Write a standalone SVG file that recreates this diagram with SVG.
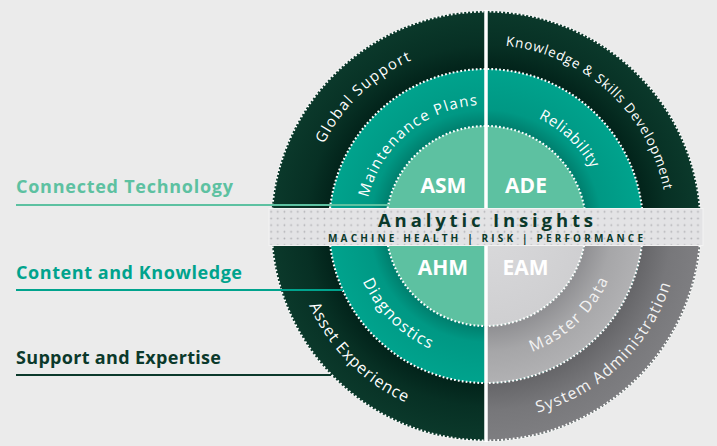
<svg xmlns="http://www.w3.org/2000/svg" xmlns:xlink="http://www.w3.org/1999/xlink" width="717" height="446" viewBox="0 0 717 446">
<defs>
<radialGradient id="gOuter" gradientUnits="userSpaceOnUse" cx="486" cy="226" r="215">
<stop offset="0.73" stop-color="#02231a"/><stop offset="0.84" stop-color="#073024"/><stop offset="1" stop-color="#0b392b"/>
</radialGradient>
<radialGradient id="gMid" gradientUnits="userSpaceOnUse" cx="486" cy="226" r="157">
<stop offset="0.637" stop-color="#007e6d"/><stop offset="0.74" stop-color="#009884"/><stop offset="1" stop-color="#00a38d"/>
</radialGradient>
<radialGradient id="gGrayOuter" gradientUnits="userSpaceOnUse" cx="486" cy="226" r="215">
<stop offset="0.73" stop-color="#656568"/><stop offset="0.86" stop-color="#77777a"/><stop offset="1" stop-color="#7e7e81"/>
</radialGradient>
<radialGradient id="gGrayMid" gradientUnits="userSpaceOnUse" cx="486" cy="226" r="157">
<stop offset="0.637" stop-color="#8f8f92"/><stop offset="0.8" stop-color="#a6a6a8"/><stop offset="1" stop-color="#b1b1b3"/>
</radialGradient>
<radialGradient id="gGrayIn" gradientUnits="userSpaceOnUse" cx="486" cy="226" r="100">
<stop offset="0" stop-color="#dadadc"/><stop offset="1" stop-color="#cfcfd1"/>
</radialGradient>
<pattern id="dots" patternUnits="userSpaceOnUse" x="1" y="1.7" width="6.67" height="6.67">
<rect width="6.67" height="6.67" fill="#e3e3e5"/>
<circle cx="3.3" cy="3.3" r="0.9" fill="#b2b2b6"/>
</pattern>
<path id="pGlobal" d="M343.6,339.3 A182,182 0 0 1 606.6,89.7"/>
<path id="pMaint" d="M386.9,295.4 A121,121 0 0 1 571.6,140.4"/>
<path id="pKnow" d="M363.7,92.5 A181,181 0 0 1 629.6,336.2"/>
<path id="pRel" d="M407.0,135.7 A120,120 0 0 1 579.5,301.2"/>
<path id="pDiag" d="M382.6,139.2 A135,135 0 0 0 572.8,329.4"/>
<path id="pAsset" d="M337.4,101.3 A194,194 0 0 0 610.7,374.6"/>
<path id="pMaster" d="M397.0,326.2 A134,134 0 0 0 591.0,142.8"/>
<path id="pSys" d="M359.0,372.6 A194,194 0 0 0 636.5,103.6"/>
</defs>
<style>
.dotted{fill:none;stroke:#ffffff;stroke-width:2.1;stroke-dasharray:1.8 2.1}
.ring{font-family:"Open Sans","Liberation Sans",sans-serif;font-size:15px;font-weight:400;fill:#ffffff}
.code{font-family:"Open Sans","Liberation Sans",sans-serif;font-size:21px;font-weight:700;fill:#ffffff;text-anchor:middle}
.lbl{font-family:"Open Sans","Liberation Sans",sans-serif;font-size:18px;font-weight:700}
.conn{fill:none;stroke-width:2}
</style>
<rect width="717" height="446" fill="#ebebeb"/>

<g id="outer-ring">
<circle cx="486" cy="226" r="215" fill="url(#gOuter)"/>
<path d="M486,226 L701,226 A215,215 0 0 1 486,441 Z" fill="url(#gGrayOuter)"/>
<circle class="dotted" cx="486" cy="226" r="214.5"/>
</g>
<g id="middle-ring">
<circle cx="486" cy="226" r="157" fill="url(#gMid)"/>
<path d="M486,226 L643,226 A157,157 0 0 1 486,383 Z" fill="url(#gGrayMid)"/>
<circle class="dotted" cx="486" cy="226" r="157"/>
</g>
<g id="inner-disc">
<circle cx="486" cy="226" r="100" fill="#5dc1a1"/>
<path d="M486,226 L586,226 A100,100 0 0 1 486,326 Z" fill="url(#gGrayIn)"/>
<circle class="dotted" cx="486" cy="226" r="100"/>
</g>
<line x1="486" y1="10" x2="486" y2="442" stroke="#ffffff" stroke-width="3.5"/>

<g id="connectors">
<line class="conn" x1="16" y1="205" x2="389" y2="205" stroke="#5dc1a1"/>
<line class="conn" x1="16" y1="290" x2="343" y2="290" stroke="#00a38d"/>
<line class="conn" x1="16" y1="375" x2="331" y2="375" stroke="#0b392b"/>
</g>

<g id="band">
<rect x="269" y="208.5" width="434" height="37" fill="url(#dots)" stroke="#f3f3f3" stroke-width="1"/>
<text x="485.5" y="227" text-anchor="middle" textLength="215" lengthAdjust="spacing" font-family="'Open Sans','Liberation Sans',sans-serif" font-size="18.5" font-weight="700" fill="#0b392b">Analytic Insights</text>
<text x="485.5" y="242" text-anchor="middle" textLength="315" lengthAdjust="spacing" font-family="'Open Sans','Liberation Sans',sans-serif" font-size="10" font-weight="700" fill="#0b392b">MACHINE HEALTH  |  RISK  |  PERFORMANCE</text>
</g>

<g id="global-support"><text class="ring" letter-spacing="1.4"><textPath href="#pGlobal" startOffset="50%" text-anchor="middle">Global Support</textPath></text></g>
<g id="knowledge-skills"><text class="ring" letter-spacing="0.8" style="font-size:13.5px"><textPath href="#pKnow" startOffset="50%" text-anchor="middle">Knowledge &amp; Skills Development</textPath></text></g>
<g id="maintenance-plans"><text class="ring" letter-spacing="1.3"><textPath href="#pMaint" startOffset="50%" text-anchor="middle">Maintenance Plans</textPath></text></g>
<g id="reliability"><text class="ring" letter-spacing="0.7"><textPath href="#pRel" startOffset="50%" text-anchor="middle">Reliability</textPath></text></g>
<g id="diagnostics"><text class="ring" style="font-size:16px" letter-spacing="1.2"><textPath href="#pDiag" startOffset="50%" text-anchor="middle">Diagnostics</textPath></text></g>
<g id="asset-experience"><text class="ring" style="font-size:16px" letter-spacing="0.9"><textPath href="#pAsset" startOffset="50%" text-anchor="middle">Asset Experience</textPath></text></g>
<g id="master-data"><text class="ring" style="font-size:16px;fill:#f2f2f2" letter-spacing="1.6"><textPath href="#pMaster" startOffset="50%" text-anchor="middle">Master Data</textPath></text></g>
<g id="system-administration"><text class="ring" style="font-size:16px;fill:#f2f2f2" letter-spacing="1.2"><textPath href="#pSys" startOffset="50%" text-anchor="middle">System Administration</textPath></text></g>

<g id="asm"><text class="code" x="443.5" y="193">ASM</text></g>
<g id="ade"><text class="code" x="526" y="193">ADE</text></g>
<g id="ahm"><text class="code" x="443" y="275">AHM</text></g>
<g id="eam"><text class="code" x="525.5" y="275">EAM</text></g>

<g id="connected-technology"><text class="lbl" x="16" y="193" fill="#5dc1a1" textLength="217">Connected Technology</text></g>
<g id="content-knowledge"><text class="lbl" x="16" y="279" fill="#00a38d" textLength="226">Content and Knowledge</text></g>
<g id="support-expertise"><text class="lbl" x="16" y="364" fill="#0b392b" textLength="205">Support and Expertise</text></g>
</svg>
